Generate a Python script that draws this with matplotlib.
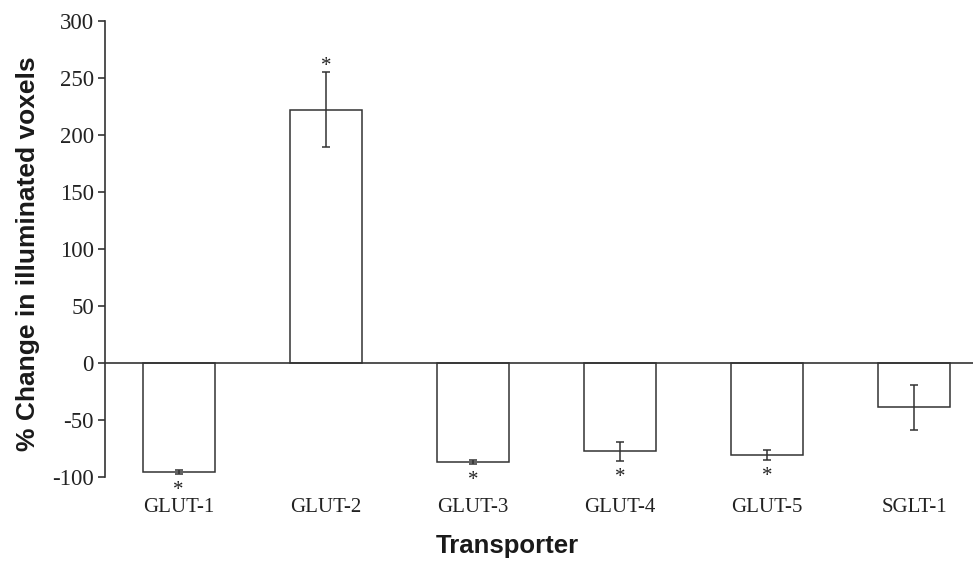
import matplotlib

matplotlib.use("Agg")
import matplotlib.pyplot as plt
import numpy as np


transporters = ["GLUT-1", "GLUT-2", "GLUT-3", "GLUT-4", "GLUT-5", "SGLT-1"]
pct_change = [-95.5, 222, -87, -77.5, -81, -39]
sem = [1.8, 33, 1.5, 8.5, 4.4, 20]
significant = [True, True, True, True, True, False]

y_ticks = [-100, -50, 0, 50, 100, 150, 200, 250, 300]

LINE = "#333333"


def main() -> None:
    fig = plt.figure(figsize=(9.73, 5.67), dpi=100)
    ax = fig.add_axes([0.108, 0.159, 0.892, 0.804])

    x = np.arange(len(transporters))
    ax.bar(
        x,
        pct_change,
        0.49,
        color="white",
        edgecolor=LINE,
        linewidth=1.1,
        yerr=sem,
        error_kw=dict(ecolor=LINE, elinewidth=1.1, capsize=3, capthick=1.1),
        zorder=2,
    )
    ax.axhline(0, color=LINE, linewidth=1.2, zorder=3)

    # significance stars just beyond the end of the error bar
    for xi, val, err, sig in zip(x, pct_change, sem, significant):
        if not sig:
            continue
        end = val + err if val > 0 else val - err
        dy = 0.7 if val > 0 else -15
        ax.annotate("*", (xi, end), xytext=(0, dy), textcoords="offset points",
                    ha="center", va="baseline", fontsize=15,
                    family="Liberation Serif", color="#222222")

    ax.set_xlim(-0.5, 5.4)
    ax.set_ylim(-100, 300)
    ax.set_yticks(y_ticks)
    ax.set_yticklabels([str(t) for t in y_ticks], family="Liberation Serif", fontsize=16.5)
    ax.set_xticks(x)
    ax.set_xticklabels(transporters, family="Liberation Serif", fontsize=15)
    ax.tick_params(axis="x", length=0, pad=15.5, colors="#222222")
    ax.tick_params(axis="y", length=5, width=1.2, color=LINE, labelcolor="#222222", pad=3)

    for side in ("top", "right", "bottom"):
        ax.spines[side].set_visible(False)
    ax.spines["left"].set_color(LINE)
    ax.spines["left"].set_linewidth(1.2)

    ax.set_xlabel("Transporter", family="Liberation Sans", fontweight="bold",
                  fontsize=18.5, color="#1a1a1a")
    ax.xaxis.set_label_coords(0.464, -0.126)
    ax.set_ylabel("% Change in illuminated voxels", family="Liberation Sans",
                  fontweight="bold", fontsize=19, color="#1a1a1a")
    ax.yaxis.set_label_coords(-0.075, 0.49)

    fig.savefig("out.png", dpi=100)


if __name__ == "__main__":
    main()
